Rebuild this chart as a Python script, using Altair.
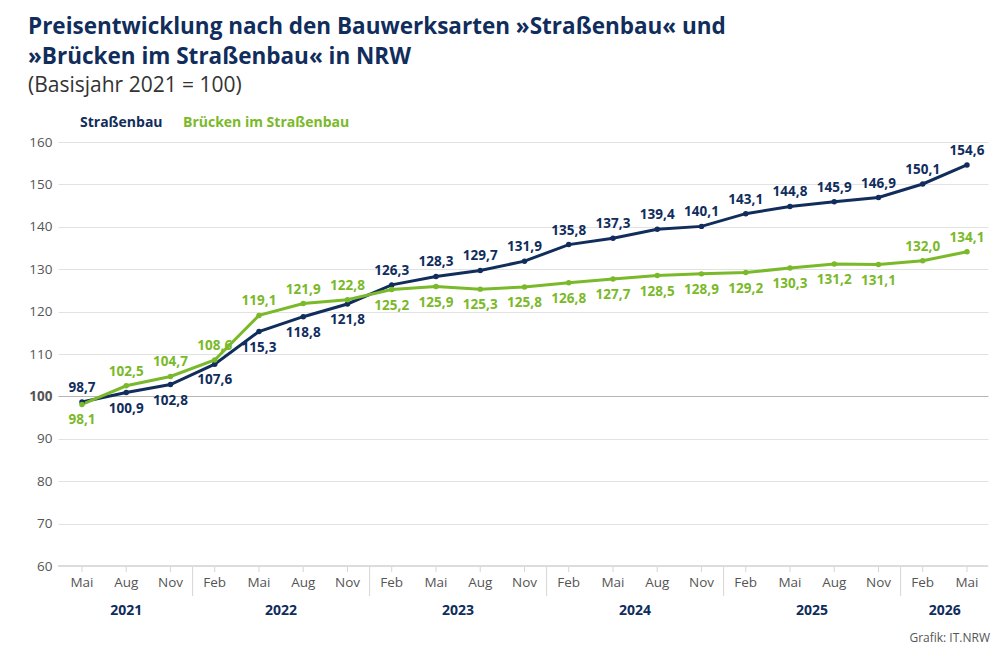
import altair as alt
import pandas as pd

# Quarterly price index, base year 2021 = 100
months = ["Mai", "Aug", "Nov",
          "Feb", "Mai", "Aug", "Nov",
          "Feb", "Mai", "Aug", "Nov",
          "Feb", "Mai", "Aug", "Nov",
          "Feb", "Mai", "Aug", "Nov",
          "Feb", "Mai"]
years = ["2021"] * 3 + ["2022"] * 4 + ["2023"] * 4 + ["2024"] * 4 + ["2025"] * 4 + ["2026"] * 2
strassenbau = [98.7, 100.9, 102.8, 107.6, 115.3, 118.8, 121.8, 126.3, 128.3, 129.7, 131.9,
               135.8, 137.3, 139.4, 140.1, 143.1, 144.8, 145.9, 146.9, 150.1, 154.6]
bruecken = [98.1, 102.5, 104.7, 108.6, 119.1, 121.9, 122.8, 125.2, 125.9, 125.3, 125.8,
            126.8, 127.7, 128.5, 128.9, 129.2, 130.3, 131.2, 131.1, 132.0, 134.1]
y_ticks = [60, 70, 80, 90, 100, 110, 120, 130, 140, 150, 160]

NAVY = "#102d5c"
GREEN = "#7ab929"
FONT = "Open Sans"
S1 = "Straßenbau"
S2 = "Brücken im Straßenbau"

rows = []
for i in range(len(months)):
    s, b = strassenbau[i], bruecken[i]
    rows.append({"i": i, "series": S1, "value": s,
                 "label": f"{s:.1f}".replace(".", ","),
                 "side": "below" if s < b else "above"})
    rows.append({"i": i, "series": S2, "value": b,
                 "label": f"{b:.1f}".replace(".", ","),
                 "side": "above" if (b > s or i >= 19) else "below"})
df = pd.DataFrame(rows)

ticks_df = pd.DataFrame({"i": list(range(len(months))), "month": months, "year": years})
year_df = ticks_df.groupby("year", as_index=False)["i"].mean()
sep_df = pd.DataFrame({"i": [i + 0.5 for i in range(len(years) - 1) if years[i] != years[i + 1]]})

xs = alt.Scale(domain=[-0.542, 20.475], nice=False, zero=False)
ys = alt.Scale(domain=[60, 160], nice=False, zero=False)
col = alt.Scale(domain=[S1, S2], range=[NAVY, GREEN])

X = alt.X("i:Q", scale=xs, axis=None)
Y = alt.Y("value:Q", scale=ys, title=None, axis=alt.Axis(
    values=y_ticks, domain=False, ticks=False, labelPadding=6,
    labelFont=FONT, labelFontSize=13.5, labelColor="#555",
    labelFontWeight={"condition": {"test": "datum.value == 100", "value": "bold"}, "value": "normal"},
    gridColor={"condition": {"test": "datum.value == 100", "value": "#b5b5b5"}, "value": "#e2e2e2"},
))

base = alt.Chart(df)
lines = base.mark_line(strokeWidth=3).encode(
    x=X, y=Y, color=alt.Color("series:N", scale=col, legend=None), detail="series:N")
points = base.mark_circle(size=30, opacity=1).encode(
    x=X, y=alt.Y("value:Q", scale=ys), color=alt.Color("series:N", scale=col, legend=None))

def labels(side, dy):
    return base.transform_filter(alt.datum.side == side).mark_text(
        font=FONT, fontSize=13.5, fontWeight="bold", dy=dy, baseline="middle"
    ).encode(x=X, y=alt.Y("value:Q", scale=ys), text="label:N",
             color=alt.Color("series:N", scale=col, legend=None))

bottom = alt.Chart(pd.DataFrame({"v": [60]})).mark_rule(color="#dcdcdc", strokeWidth=2).encode(
    y=alt.Y("v:Q", scale=ys))
tick_marks = alt.Chart(ticks_df).mark_rule(color="#d5d5d5").encode(
    x=X, y=alt.value(425), y2=alt.value(430))
seps = alt.Chart(sep_df).mark_rule(color="#d5d5d5").encode(
    x=X, y=alt.value(425), y2=alt.value(454))
month_text = alt.Chart(ticks_df).mark_text(font=FONT, fontSize=13.5, color="#555", baseline="middle").encode(
    x=X, y=alt.value(441), text="month:N")
year_text = alt.Chart(year_df).mark_text(font=FONT, fontSize=14, fontWeight="bold", color=NAVY,
                                         baseline="middle").encode(
    x=X, y=alt.value(469), text="year:N")

def static_text(txt, x, y, size, weight, color, align="left"):
    return alt.Chart(pd.DataFrame({"t": [txt]})).mark_text(
        font=FONT, fontSize=size, fontWeight=weight, color=color, align=align, baseline="alphabetic"
    ).encode(text="t:N", x=alt.value(x), y=alt.value(y))

texts = [
    static_text("Preisentwicklung nach den Bauwerksarten »Straßenbau« und", -30, -108, 22.5, "bold", NAVY),
    static_text("»Brücken im Straßenbau« in NRW", -30, -78, 22.5, "bold", NAVY),
    static_text("(Basisjahr 2021 = 100)", -30, -50, 21, "normal", "#333"),
    static_text(S1, 22, -15, 14, "bold", NAVY),
    static_text(S2, 125, -15, 14, "bold", GREEN),
    static_text("Grafik: IT.NRW", 932, 500, 12, "normal", "#555", "right"),
]

chart = alt.layer(
    lines, bottom, tick_marks, seps, points, labels("above", -14), labels("below", 16),
    month_text, year_text, *texts
).properties(
    width=930, height=424,
    autosize=alt.AutoSizeParams(type="none"),
    padding={"left": 50, "top": 134, "right": 3, "bottom": 82},
).configure_view(stroke=None)

chart.save("out.html", embed_options={"renderer": "svg", "actions": False})
